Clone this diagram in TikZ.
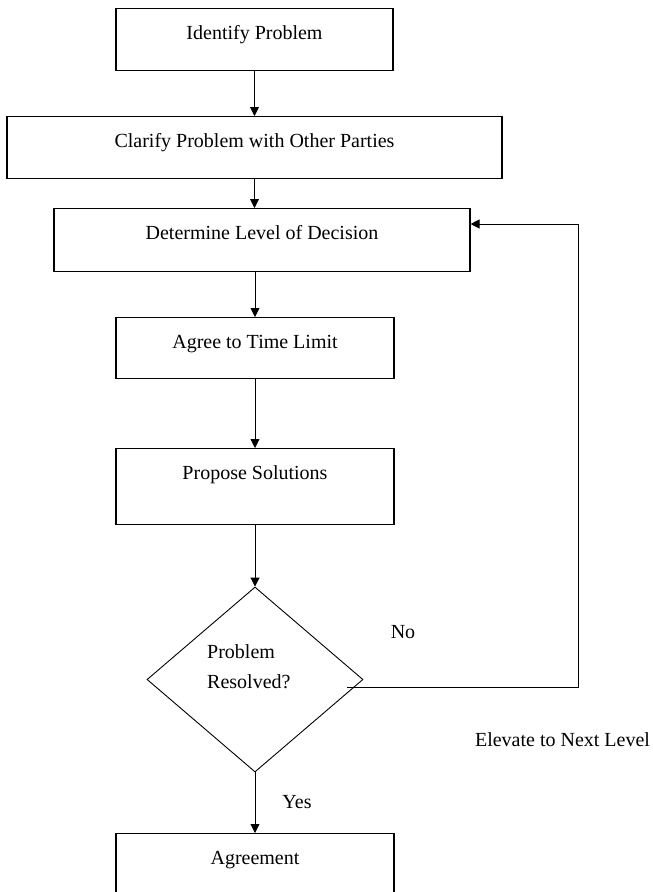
\documentclass[tikz,border=0pt]{standalone}
\usepackage{fontspec}
\setmainfont{Liberation Serif}
\usetikzlibrary{shapes.geometric,arrows.meta,positioning}

\tikzset{
  etape/.style={draw, line width=1.1pt, inner sep=0pt, text height=30.5pt, anchor=north},
  fleche/.style={line width=0.9pt, -{Triangle[width=9pt,length=9pt]}},
}

\begin{document}
\begin{tikzpicture}[x=1pt, y=-1pt, font=\fontsize{20}{30}\selectfont]
    % Cadre
    \useasboundingbox (0,0) rectangle (653,892);

    % Etapes
    \node (ident) at (254.5,8) [etape, minimum width=277pt, text depth=31.5pt] {Identify Problem};
    \node (clarif) at (254.5,116) [etape, minimum width=495pt, text depth=31.5pt] {Clarify Problem with Other Parties};
    \node (niveau) at (262,208) [etape, minimum width=416pt, text depth=32.5pt] {Determine Level of Decision};
    \node (delai) at (255,317) [etape, minimum width=278pt, text depth=30.5pt] {Agree to Time Limit};
    \node (solut) at (255,448) [etape, minimum width=278pt, text depth=45.5pt] {Propose Solutions};

    % Decision
    \node (decision) at (255,679.5) [diamond, draw, line width=0.9pt, minimum width=216pt, minimum height=185pt, inner sep=0pt] {};
    \node (dtexte) at (207,667) [anchor=west, align=left, inner sep=0pt] {Problem\\Resolved?};

    % Fin
    \node (accord) at (255,833) [etape, minimum width=278pt, text depth=39.5pt] {Agreement};

    % Fleches principales
    \draw[fleche] (ident.south) -- (ident.south |- clarif.north);
    \draw[fleche] (clarif.south) -- (clarif.south |- niveau.north);
    \draw[fleche] (delai.north |- niveau.south) -- (delai.north);
    \draw[fleche] (delai.south) -- (solut.north);
    \draw[fleche] (solut.south) -- (decision.north);
    \draw[fleche] (decision.south) -- (accord.north);

    % Boucle : niveau suivant
    \coordinate (nonsortie) at (347,687);
    \coordinate (noncoin) at (578,224);
    \draw[fleche] (nonsortie) -| (noncoin) -- (noncoin -| niveau.east);

    % Etiquettes
    \node (non) at (403,632) {No};
    \node (elever) at (562.5,740) {Elevate to Next Level};
    \node (oui) at (297,802) {Yes};
\end{tikzpicture}
\end{document}
